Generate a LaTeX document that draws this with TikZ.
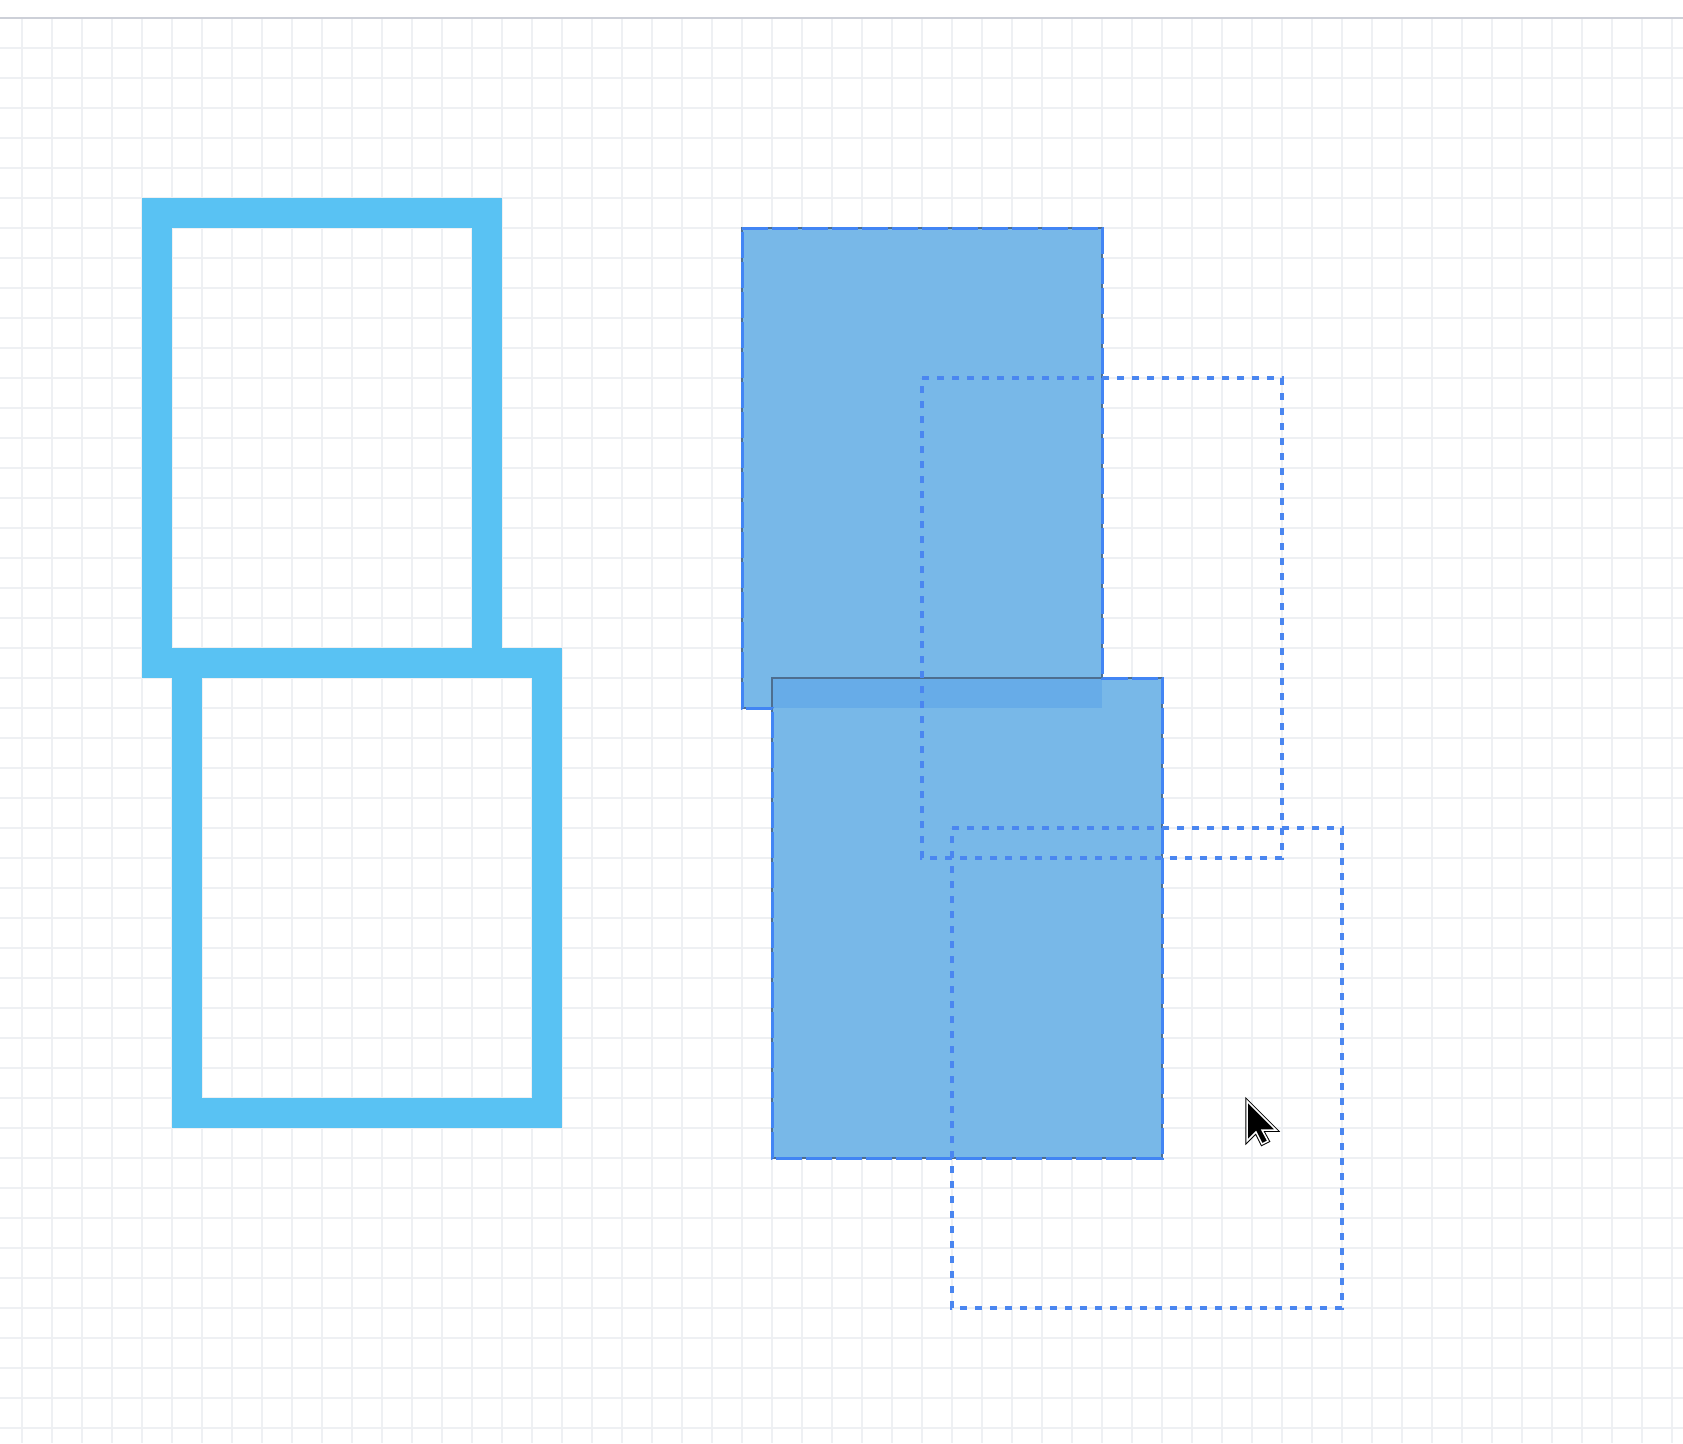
\documentclass[tikz,border=0pt]{standalone}
\usepackage{xcolor}
\definecolor{gridc}{HTML}{EEF0F3}
\definecolor{topline}{HTML}{CDD0D8}
\definecolor{outlineblue}{HTML}{59C2F3}
\definecolor{fillblue}{HTML}{78B8E8}
\definecolor{overlapblue}{HTML}{67ACE8}
\definecolor{edgegray}{HTML}{4D6E90}
\definecolor{selblue}{HTML}{4285F4}
\definecolor{ghostblue}{HTML}{4A86F0}
\tikzset{
  gridline/.style={draw=gridc, line width=2pt},
  thickframe/.style={draw=outlineblue, line width=30pt, line join=miter},
  shapefill/.style={fill=fillblue},
  grayedge/.style={draw=edgegray, line width=2pt},
  selection/.style={draw=selblue, line width=3pt, dash pattern=on 26pt off 4pt},
  ghost/.style={draw=ghostblue, line width=4pt, dash pattern=on 7pt off 8pt},
}
\begin{document}
\begin{tikzpicture}[x=1pt, y=-1pt]
\useasboundingbox (0,0) rectangle (1683,1443);
\fill[white] (0,0) rectangle (1683,1443);
% grid
\foreach \k in {0,...,55} {
  \draw[gridline] ({22+30*\k},18) -- ({22+30*\k},1443);
}
\foreach \k in {0,...,46} {
  \draw[gridline] (0,{48+30*\k}) -- (1683,{48+30*\k});
}
\draw[topline, line width=1.5pt] (0,18) -- (1683,18);
% left outlined rectangles
\draw[thickframe] (157,213) rectangle (487,663);
\draw[thickframe] (187,663) rectangle (547,1113);
% filled rectangles
\fill[shapefill] (742,228) rectangle (1102,708);
\draw[grayedge] (742,228) rectangle (1102,708);
\fill[shapefill] (772,678) rectangle (1162,1158);
\fill[overlapblue] (772,678) rectangle (1102,708);
\draw[grayedge] (772,678) rectangle (1162,1158);
% selection outline of the union
\draw[selection] (742,228) -- (1102,228) -- (1102,678) -- (1162,678) -- (1162,1158)
  -- (772,1158) -- (772,708) -- (742,708) -- cycle;
% dotted ghost rectangles
\draw[ghost] (922,378) -- (1282,378) -- (1282,858) -- (922,858) -- cycle;
\draw[ghost] (952,828) -- (1342,828) -- (1342,1308) -- (952,1308) -- cycle;
% cursor
\begin{scope}[shift={(1247,1101)}]
  \draw[black, line width=3.5pt, line join=miter] (0,0) -- (0,40) -- (9,31) -- (15,43) -- (21,40) -- (15,29) -- (29,29) -- cycle;
  \draw[white, line width=1.5pt, fill=black, line join=miter] (0,0) -- (0,40) -- (9,31) -- (15,43) -- (21,40) -- (15,29) -- (29,29) -- cycle;
\end{scope}
\end{tikzpicture}
\end{document}
